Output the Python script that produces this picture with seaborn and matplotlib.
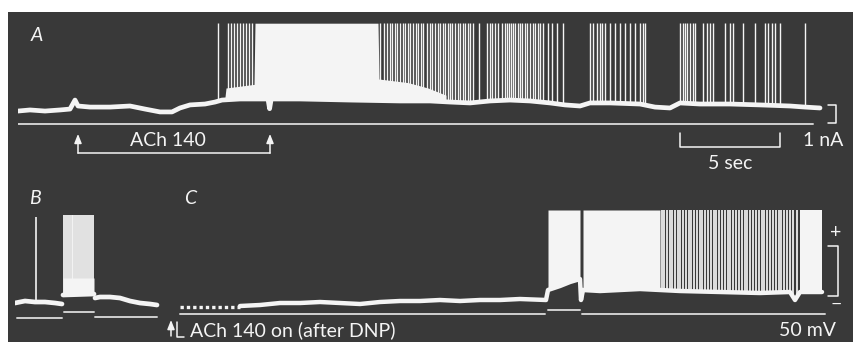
import numpy as np
import matplotlib
matplotlib.use("Agg")
import matplotlib.pyplot as plt
import seaborn as sns

# ---------------- data (time in s, A in nA, B/C in mV relative) ----------------
# Panel A: baseline current trace
baseA_t = [0.0, 0.6, 1.35, 2.1, 2.6, 2.85, 3.0, 3.6, 4.6, 5.6, 6.35, 7.1, 7.7, 8.1, 8.6,
           9.35, 9.85, 10.2, 11.1, 12.5, 12.58, 12.66, 14.1, 16.6, 19.1, 20.6, 21.6, 22.6,
           23.6, 24.6, 25.6, 26.6, 27.35, 28.1, 28.6, 29.6, 31.1, 31.85, 32.6, 33.1,
           34.1, 35.6, 37.1, 38.6, 39.35, 40.1]
baseA_y = [0.72, 0.78, 0.72, 0.78, 0.83, 1.33, 1.0, 0.94, 0.94, 1.0, 0.83, 0.67, 0.67, 0.89, 1.06,
           1.11, 1.22, 1.33, 1.39, 1.39, 0.85, 1.39, 1.39, 1.33, 1.28, 1.28, 1.22, 1.17,
           1.28, 1.33, 1.28, 1.17, 1.06, 1.0, 1.17, 1.17, 1.11, 0.94, 0.89, 1.17,
           1.11, 1.11, 1.06, 1.0, 0.94, 0.89]
spikeA_t = [10.0, 10.5, 10.65, 10.8, 10.95, 11.1, 11.25, 11.4, 11.55, 11.7,
            18.1, 18.3, 18.45, 18.6, 18.7, 18.85, 18.95, 19.1, 19.25, 19.35, 19.5, 19.6,
            19.75, 19.9, 20.0, 20.15, 20.25, 20.45, 20.6, 20.7, 20.85, 21.0, 21.1, 21.25,
            21.35, 21.5, 21.6, 21.7, 21.85, 22.0, 22.1, 22.25, 22.35, 22.5, 22.6, 22.75,
            23.05, 23.45, 23.6, 23.7, 23.85, 24.0, 24.2, 24.35, 24.45, 24.55, 24.65, 24.75,
            24.85, 25.0, 25.1, 25.2, 25.35, 25.45, 25.6, 25.75, 25.85, 26.0, 26.1, 26.25,
            26.5, 26.7, 26.95, 27.25, 28.6, 28.75, 28.95, 29.1, 29.2, 29.35, 29.6, 29.85,
            30.1, 30.35, 30.6, 30.85, 31.1, 31.25, 31.35, 33.1, 33.25, 33.35, 33.45, 33.6,
            33.75, 33.85, 34.25, 34.45, 34.6, 34.75, 35.35, 35.6, 35.75, 36.25, 36.85,
            37.35, 37.5, 37.7, 37.85, 38.1, 39.35]
spikeA_peak = 5.6
# saturated (white) envelope of the ACh response in A
envA_t = [10.35, 10.4, 11.8, 11.85, 18.0, 18.05, 19.5, 20.5, 21.4]
envA_y = [1.5, 2.0, 2.2, 5.6, 5.6, 2.5, 2.3, 2.0, 1.6]
refA_t = [0.0, 39.75]
achA_t = [3.0, 12.6]          # ACh 140 application (on, off)
barA_t = [33.1, 38.1]         # 5 sec
barA_nA = [0.06, 1.06]        # 1 nA

# Panel B
baseB_t = [0.0, 0.5, 1.0, 1.5, 2.0, 2.35, 2.4, 3.95, 4.0, 4.25, 4.75, 5.25, 5.75, 6.25, 6.75, 7.1]
baseB_y = [15, 17, 16, 16, 15, 14, 23, 24, 20, 21, 21, 20, 17, 15, 14, 13]
spikeB1_t = [1.05]
spikeB1_peak = 101
spikeB_t = [2.45, 2.55, 2.65, 2.75, 2.85, 2.9, 3.0, 3.1, 3.2, 3.3, 3.4, 3.5, 3.6, 3.7, 3.8, 3.9]
spikeB_peak = 103
envB_t = [2.4, 3.95]
envB_top = 40
refB_seg = [(0.1, 2.35, 0), (2.45, 3.95, 6), (4.0, 7.1, 1)]

# Panel C
dotC_t = [0.6, 3.6]
dotC_y = [11, 11]
baseC_t = [3.6, 4.6, 5.6, 6.6, 7.6, 8.6, 9.6, 10.6, 11.6, 12.6, 13.6, 14.6, 15.6, 16.6, 17.6, 18.9,
           19.0, 19.6, 20.1, 20.6, 20.65, 20.75, 21.6, 23.6, 25.6, 27.6, 29.6, 31.1, 31.35, 31.6, 32.7]
baseC_y = [12, 13, 15, 15, 16, 15, 14, 16, 17, 17, 18, 17, 18, 18, 19, 18,
           28, 32, 36, 39, 18, 28, 27, 29, 27, 26, 25, 26, 18, 26, 26]
satC = [(19.0, 20.6), (20.75, 24.6), (31.6, 32.7)]
spikeC_peak = 108
spikeC_t = [24.7, 24.8, 24.95, 25.1, 25.2, 25.35, 25.5, 25.6, 25.75, 25.9, 26.05, 26.15, 26.3,
            26.45, 26.6, 26.7, 26.85, 27.0, 27.15, 27.3, 27.4, 27.55, 27.7, 27.85, 28.0, 28.1,
            28.25, 28.4, 28.55, 28.7, 28.85, 28.95, 29.1, 29.25, 29.4, 29.55, 29.7, 29.8,
            29.95, 30.1, 30.25, 30.4, 30.55, 30.65, 30.8, 30.95, 31.1, 31.25, 31.45]
refC_seg = [(0.6, 18.85, 4), (19.0, 20.6, 8), (20.7, 32.85, 4)]
barC_mV = [22, 72]            # 50 mV

# ---------------- style ----------------
sns.set_theme(style="dark")
plt.rcParams['font.family'] = ['Lato', 'DejaVu Sans']
DARK = '#393939'
WHITE = '#f4f4f4'
REF = '#d0d0d0'

fig = plt.figure(figsize=(8.54, 3.42), dpi=100, facecolor='white')
W, H = 854.0, 342.0

def frac(x0, y0, x1, y1):
    return [x0 / W, 1 - y1 / H, (x1 - x0) / W, (y1 - y0) / H]

bg = fig.add_axes(frac(8, 12, 854, 342))
bg.set_facecolor(DARK)
bg.set_xticks([]); bg.set_yticks([])
for s in bg.spines.values():
    s.set_visible(False)

def mk(rect, xlim, ylim):
    ax = fig.add_axes(rect)
    ax.set_xlim(*xlim); ax.set_ylim(*ylim)
    ax.set_axis_off()
    return ax

axA = mk(frac(18, 12, 842, 180), (0, 41.2), (-3.111, 6.222))
axB = mk(frac(15, 180, 162, 342), (0, 7.35), (-24, 138))
axC = mk(frac(168, 180, 854, 342), (0, 34.3), (-24, 138))

txt = dict(color=WHITE, fontsize=14)

# ---- Panel A ----
tA = np.array(baseA_t); yA = np.array(baseA_y)
ev_t = np.array(envA_t)
axA.fill_between(ev_t, np.interp(ev_t, tA, yA), envA_y, color=WHITE, lw=0)
sp = np.array(spikeA_t)
axA.vlines(sp, np.interp(sp, tA, yA), spikeA_peak, color=WHITE, lw=1.0)
sns.lineplot(x=baseA_t, y=baseA_y, ax=axA, color=WHITE, linewidth=3.4, sort=False, estimator=None)
axA.plot(refA_t, [0, 0], color=REF, lw=1.4)
axA.text(0.95, 4.89, 'A', style='italic', ha='center', va='center', **txt)
ar = dict(arrowstyle='-|>,head_length=0.45,head_width=0.18', color=WHITE, lw=1.1, shrinkA=0, shrinkB=0)
for t in achA_t:
    axA.annotate('', xy=(t, -0.55), xytext=(t, -1.62), arrowprops=ar)
axA.plot(achA_t, [-1.62, -1.62], color=WHITE, lw=1.1)
axA.text(np.mean(achA_t) - 0.3, -0.92, 'ACh 140', ha='center', va='center', **txt)
axA.plot([barA_t[0], barA_t[0], barA_t[1], barA_t[1]], [-0.5, -1.28, -1.28, -0.5], color=WHITE, lw=1.1)
axA.text(np.mean(barA_t), -2.2, '5 sec', ha='center', va='center', **txt)
axA.plot([40.5, 40.9, 40.9, 40.5], [barA_nA[1], barA_nA[1], barA_nA[0], barA_nA[0]], color=WHITE, lw=1.1)
axA.text(40.25, -0.94, '1 nA', ha='center', va='center', **txt)

# ---- Panel B ----
tB = np.array(baseB_t); yB = np.array(baseB_y)
axB.fill_between(envB_t, np.interp(envB_t, tB, yB), envB_top, color=WHITE, lw=0)
spb = np.array(spikeB_t)
axB.vlines(spb, np.interp(spb, tB, yB), spikeB_peak, color=WHITE, lw=1.3)
axB.vlines(spikeB1_t, np.interp(spikeB1_t, tB, yB), spikeB1_peak, color=WHITE, lw=1.2)
sns.lineplot(x=baseB_t[:6], y=baseB_y[:6], ax=axB, color=WHITE, linewidth=3.4, sort=False, estimator=None)
sns.lineplot(x=baseB_t[6:8], y=baseB_y[6:8], ax=axB, color=WHITE, linewidth=3.4, sort=False, estimator=None)
sns.lineplot(x=baseB_t[8:], y=baseB_y[8:], ax=axB, color=WHITE, linewidth=3.4, sort=False, estimator=None)
for a, b, v in refB_seg:
    axB.plot([a, b], [v, v], color=REF, lw=1.4)
axB.text(1.0, 120, 'B', style='italic', ha='center', va='center', **txt)

# ---- Panel C ----
tC = np.array(baseC_t); yC = np.array(baseC_y)
axC.plot(dotC_t, dotC_y, color=WHITE, lw=2.4, linestyle=(0, (1.0, 0.9)))
for a, b in satC:
    tt = tC[(tC >= a) & (tC <= b)]
    tt = np.concatenate([[a], tt, [b]])
    axC.fill_between(tt, np.interp(tt, tC, yC), spikeC_peak, color=WHITE, lw=0)
spc = np.array(spikeC_t)
axC.vlines(spc, np.interp(spc, tC, yC), spikeC_peak, color=WHITE, lw=1.25)
sns.lineplot(x=baseC_t, y=baseC_y, ax=axC, color=WHITE, linewidth=3.2, sort=False, estimator=None)
for a, b, v in refC_seg:
    axC.plot([a, b], [v, v], color=REF, lw=1.4)
axC.text(1.1, 120, 'C', style='italic', ha='center', va='center', **txt)
axC.annotate('', xy=(0.15, -2), xytext=(0.15, -18), arrowprops=ar)
axC.plot([0.45, 0.45, 0.8], [-4, -19, -19], color=WHITE, lw=1.1)
axC.text(1.1, -12, 'ACh 140 on (after DNP)', ha='left', va='center', **txt)
axC.plot([33.0, 33.5, 33.5, 33.0], [barC_mV[1], barC_mV[1], barC_mV[0], barC_mV[0]], color=WHITE, lw=1.1)
axC.text(33.4, 85, '+', ha='center', va='center', **txt)
axC.text(33.4, 14, '\u2212', ha='center', va='center', **txt)
axC.text(32.0, -13, '50 mV', ha='center', va='center', **txt)

fig.savefig('out.png', dpi=100, facecolor='white')
